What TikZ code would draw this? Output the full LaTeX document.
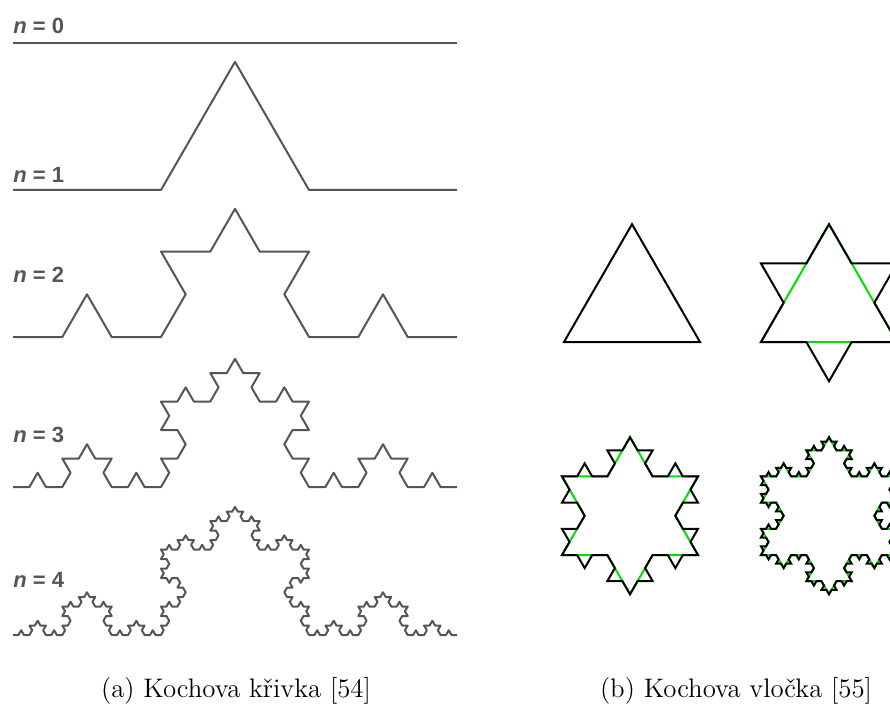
\documentclass[tikz,border=0pt]{standalone}
\usepackage{fontspec}
\usepackage{xcolor}
\usetikzlibrary{lindenmayersystems}

\newfontfamily\labelfont{Liberation Sans}
\definecolor{curvegray}{HTML}{555555}
\definecolor{flakegreen}{HTML}{00E000}

% Koch rules: bump to the left (curve) and to the right (snowflake, drawn ccw)
\pgfdeclarelindenmayersystem{Koch curve}{\rule{F -> F+F--F+F}}
\pgfdeclarelindenmayersystem{Koch flake}{\rule{F -> F-F++F-F}}

\tikzset{
  curve/.style={draw=curvegray, line width=1pt, line join=round},
  flake/.style={draw=black, line width=1pt},
  oldflake/.style={draw=flakegreen, line width=1pt},
  lvl label/.style={anchor=west, inner sep=0pt, text=curvegray,
    font=\labelfont\bfseries\fontsize{11}{13}\selectfont},
  subcap/.style={inner sep=0pt, font=\fontsize{13.4}{16}\selectfont}
}

\begin{document}
\begin{tikzpicture}[x=0.5pt, y=-0.5pt]

        \useasboundingbox (0,0) rectangle (890,706);
        \clip (0,0) rectangle (890,706);

        % Koch curve, n = 0 ... 4
        \node[lvl label] (lbl0) at (13,26) {\textit{n} = 0};
        \draw[curve] (13,43) -- (457,43);

        \node[lvl label] (lbl1) at (13,175) {\textit{n} = 1};
        \draw[curve, shift={(13,190)},
            l-system={Koch curve, axiom=F, order=1, step=74pt, angle=60}]
            (0,0) l-system;

        \node[lvl label] (lbl2) at (13,275) {\textit{n} = 2};
        \draw[curve, shift={(13,337)},
            l-system={Koch curve, axiom=F, order=2, step=24.6667pt, angle=60}]
            (0,0) l-system;

        \node[lvl label] (lbl3) at (13,435) {\textit{n} = 3};
        \draw[curve, shift={(13,487)},
            l-system={Koch curve, axiom=F, order=3, step=8.22222pt, angle=60}]
            (0,0) l-system;

        \node[lvl label] (lbl4) at (13,580) {\textit{n} = 4};
        \draw[curve, shift={(13,635)},
            l-system={Koch curve, axiom=F, order=4, step=2.74074pt, angle=60}]
            (0,0) l-system;

        % Koch snowflake, first steps (green = replaced middle thirds)
        \draw[flake, shift={(564,342)},
            l-system={Koch flake, axiom=F++F++F, order=0, step=68pt, angle=60}]
            (0,0) l-system -- cycle;

        \begin{scope}[shift={(761,342)}]
        \draw[oldflake, l-system={Koch flake, axiom=F++F++F, order=0, step=68pt, angle=60}]
            (0,0) l-system -- cycle;
        \draw[flake, l-system={Koch flake, axiom=F++F++F, order=1, step=22.6667pt, angle=60}]
            (0,0) l-system -- cycle;
        \end{scope}

        \begin{scope}[shift={(562,555)}]
        \draw[oldflake, l-system={Koch flake, axiom=F++F++F, order=1, step=22.6667pt, angle=60}]
            (0,0) l-system -- cycle;
        \draw[flake, l-system={Koch flake, axiom=F++F++F, order=2, step=7.55556pt, angle=60}]
            (0,0) l-system -- cycle;
        \end{scope}

        \begin{scope}[shift={(761,555)}]
        \draw[oldflake, l-system={Koch flake, axiom=F++F++F, order=2, step=7.55556pt, angle=60}]
            (0,0) l-system -- cycle;
        \draw[flake, l-system={Koch flake, axiom=F++F++F, order=3, step=2.51852pt, angle=60}]
            (0,0) l-system -- cycle;
        \end{scope}

        % Captions
        \node[subcap] (capa) at (236,691) {(a) Kochova křivka [54]};
        \node[subcap] (capb) at (736,691) {(b) Kochova vločka [55]};

\end{tikzpicture}
\end{document}
